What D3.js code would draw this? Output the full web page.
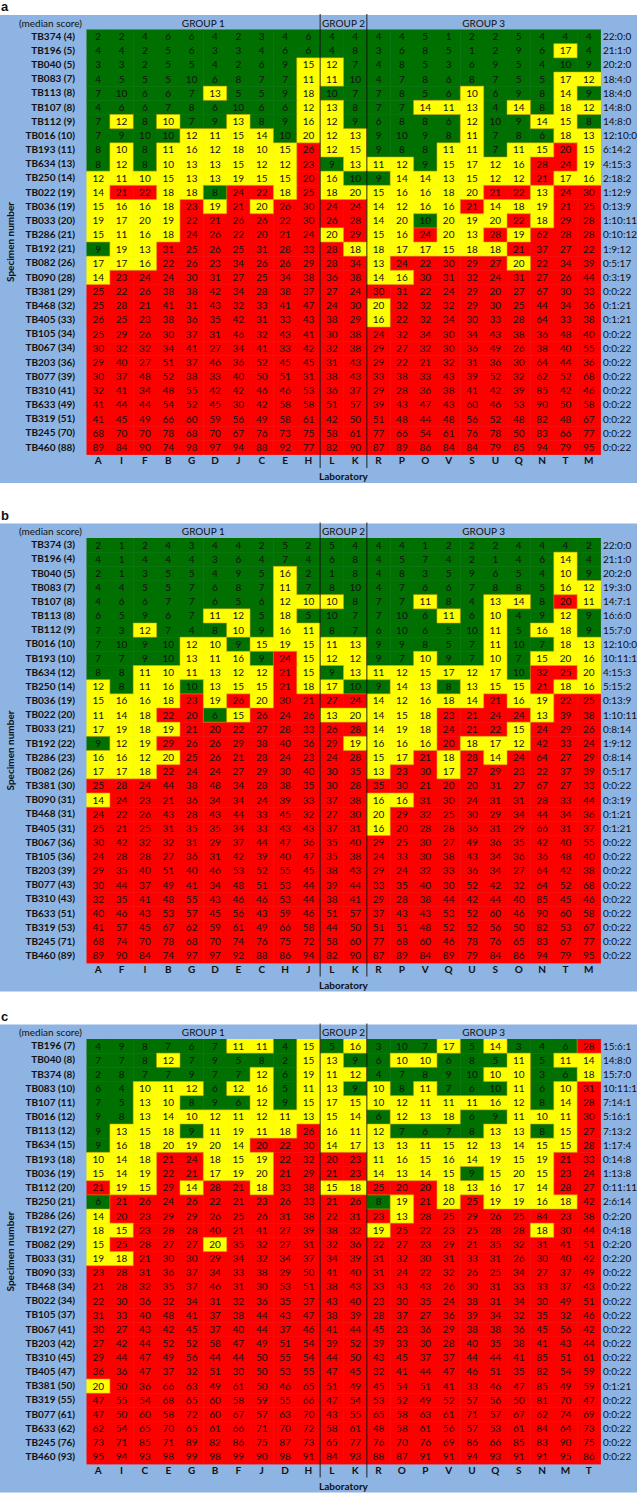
<!DOCTYPE html>
<html>
<head>
<meta charset="utf-8">
<script src="https://cdn.jsdelivr.net/npm/d3@7"></script>
<style>
  body { margin: 0; background: #fff; }
  svg { display: block; }
  text { font-family: Lato, "Open Sans", sans-serif; fill: #111; }
</style>
</head>
<body>
<svg id="chart"></svg>
<script>
// groups of laboratories (same in every panel)
const groupNames = ["GROUP 1", "GROUP 2", "GROUP 3"];
const groupSizes = [10, 2, 10];

// ---- panel a ----
const labsA = ["A","I","F","B","G","D","J","C","E","H","L","K","R","P","O","V","S","U","Q","N","T","M"];
const specA = ["TB374","TB196","TB040","TB083","TB113","TB107","TB112","TB016","TB193","TB634","TB250","TB022","TB036","TB033","TB286","TB192","TB082","TB090","TB381","TB468","TB405","TB105","TB067","TB203","TB077","TB310","TB633","TB319","TB245","TB460"];
const medA = [4,5,5,7,8,8,9,10,11,13,14,19,19,20,21,21,26,28,29,32,33,34,34,36,39,41,49,51,70,88];
const scoreA = [
  [2,2,4,6,6,4,2,3,4,6, 4,4, 4,4,5,1,2,2,5,4,4,4],
  [4,4,2,5,6,3,3,4,6,6, 4,8, 3,6,8,5,1,2,9,6,17,4],
  [3,3,2,5,5,4,2,6,9,15, 12,7, 4,8,5,3,6,9,5,4,10,9],
  [4,5,5,5,10,6,8,7,7,11, 11,10, 4,7,8,6,8,7,5,5,17,12],
  [7,10,6,6,7,13,5,5,9,18, 10,7, 7,8,5,6,10,6,9,8,14,9],
  [4,6,6,7,8,6,10,6,6,12, 13,8, 7,7,14,11,13,4,14,8,18,12],
  [7,12,8,10,7,9,13,8,9,16, 12,9, 6,8,8,6,12,10,9,14,15,8],
  [7,9,10,10,12,11,15,14,10,20, 12,13, 9,10,9,8,11,7,8,6,18,13],
  [8,10,8,11,16,12,18,10,15,26, 12,15, 9,8,8,11,11,7,11,15,20,15],
  [8,12,8,10,13,13,15,12,12,23, 9,13, 11,12,9,15,17,12,16,28,24,19],
  [12,11,10,15,13,13,19,15,15,20, 16,10, 9,14,14,13,15,12,12,21,17,16],
  [14,21,22,18,18,8,24,22,18,25, 18,20, 15,16,16,18,20,21,22,13,24,30],
  [15,16,16,18,23,19,21,20,26,30, 24,24, 14,12,16,16,21,14,18,19,21,25],
  [19,17,20,19,22,21,26,26,22,30, 26,28, 14,20,10,20,19,20,22,18,29,28],
  [15,11,16,18,24,26,22,20,21,24, 20,29, 15,16,24,20,13,28,19,62,28,28],
  [9,19,13,31,25,26,25,31,28,33, 28,18, 18,17,17,15,18,18,21,37,27,22],
  [17,17,16,22,26,23,34,26,26,29, 28,34, 13,24,22,30,29,27,20,22,34,39],
  [14,23,24,24,30,31,27,25,34,38, 36,38, 14,16,30,31,32,24,31,27,26,44],
  [25,22,26,38,38,42,34,28,38,37, 27,24, 30,31,22,24,29,20,27,67,30,33],
  [25,28,21,41,31,43,32,33,41,47, 24,30, 20,32,32,32,29,30,25,44,34,36],
  [26,25,23,38,36,35,42,31,33,43, 38,29, 16,22,32,34,30,33,28,64,33,38],
  [25,29,26,30,37,31,46,32,43,41, 30,38, 24,32,34,30,34,43,38,36,48,40],
  [30,32,32,34,41,27,34,41,33,42, 32,38, 29,27,32,30,36,49,26,38,40,55],
  [29,40,27,51,37,46,36,52,45,45, 31,43, 29,22,21,32,31,36,30,64,44,36],
  [30,37,48,52,38,33,40,50,51,31, 38,43, 33,38,33,43,39,52,32,62,52,68],
  [32,41,34,48,55,42,42,46,46,53, 36,37, 29,28,36,38,41,42,39,85,42,46],
  [41,44,44,54,52,45,30,42,58,58, 51,57, 39,43,47,43,60,46,53,90,50,58],
  [41,45,49,66,60,59,56,49,58,61, 42,50, 51,48,44,48,56,52,48,82,48,67],
  [68,70,70,78,68,70,67,76,73,75, 58,61, 77,66,54,61,76,78,50,83,66,77],
  [89,84,90,74,98,97,94,88,92,77, 82,90, 87,89,86,84,84,79,85,94,79,95]
];
// G = green, Y = yellow, R = red
const classA = [
  "GGGGGGGGGG GG GGGGGGGGGG",
  "GGGGGGGGGG GG GGGGGGGGYG",
  "GGGGGGGGGY YG GGGGGGGGGG",
  "GGGGGGGGGY YG GGGGGGGGYY",
  "GGGGGYGGGY GG GGGGYGGGYG",
  "GGGGGGGGGY YG GGYYYGYGYY",
  "GYGYGGYGGY YG GGGGYGGYYG",
  "GGGGYYYYGY YY GGGGYGGGYY",
  "GYGYYYYYYR YY GGGYYGYYRY",
  "GYGYYYYYYR GY YYGYYYYRRY",
  "YYYYYYYYYR YG GYYYYYYRYY",
  "YRRYYGRRYR YY YYYYYRRYRR",
  "YYYYRYRYRR RR YYYYRYYYRR",
  "YYYYRRRRRR RR YYGYYYRYRR",
  "YYYYRRRRRR YR YYRYYRYRRR",
  "GYYRRRRRRR RY YYYYYYRRRR",
  "YYYRRRRRRR RR YRRRRRYRRR",
  "YRRRRRRRRR RR YYRRRRRRRR",
  "RRRRRRRRRR RR RRRRRRRRRR",
  "RRRRRRRRRR RR YRRRRRRRRR",
  "RRRRRRRRRR RR YRRRRRRRRR",
  "RRRRRRRRRR RR RRRRRRRRRR",
  "RRRRRRRRRR RR RRRRRRRRRR",
  "RRRRRRRRRR RR RRRRRRRRRR",
  "RRRRRRRRRR RR RRRRRRRRRR",
  "RRRRRRRRRR RR RRRRRRRRRR",
  "RRRRRRRRRR RR RRRRRRRRRR",
  "RRRRRRRRRR RR RRRRRRRRRR",
  "RRRRRRRRRR RR RRRRRRRRRR",
  "RRRRRRRRRR RR RRRRRRRRRR"
];

// ---- panel b ----
const labsB = ["A","F","I","B","G","D","E","C","H","J","L","K","R","P","V","Q","U","S","O","N","T","M"];
const specB = ["TB374","TB196","TB040","TB083","TB107","TB113","TB112","TB016","TB193","TB634","TB250","TB036","TB022","TB033","TB192","TB286","TB082","TB381","TB090","TB468","TB405","TB067","TB105","TB203","TB077","TB310","TB633","TB319","TB245","TB460"];
const medB = [3,4,5,7,8,8,9,10,10,12,14,19,20,21,22,23,26,30,31,31,31,36,36,39,43,43,51,53,71,89];
const scoreB = [
  [2,1,2,4,3,4,4,2,5,2, 5,4, 4,4,1,2,2,2,4,4,4,2],
  [4,1,4,4,4,3,6,4,7,4, 6,8, 4,5,7,4,2,1,4,6,14,4],
  [2,1,3,5,5,4,9,5,16,2, 1,8, 4,8,3,5,9,6,5,4,10,9],
  [4,4,5,5,7,6,8,7,11,7, 8,10, 4,7,6,6,7,8,8,5,16,12],
  [4,6,6,7,7,6,5,6,12,10, 10,8, 7,7,11,8,4,13,14,8,20,11],
  [6,5,9,6,7,11,12,5,18,5, 10,7, 7,10,6,11,6,10,4,9,12,9],
  [7,3,12,7,4,8,10,9,16,11, 8,7, 6,10,6,5,10,11,5,16,18,9],
  [7,10,9,10,12,10,9,15,19,15, 11,13, 9,9,8,5,7,11,10,7,18,13],
  [7,7,9,10,13,11,16,9,24,15, 12,12, 9,7,10,9,7,10,7,15,20,16],
  [8,8,11,10,11,13,12,12,21,15, 9,13, 11,12,15,17,12,17,10,32,25,20],
  [12,8,11,16,10,13,15,15,21,18, 17,10, 9,14,13,8,13,15,15,21,18,16],
  [15,16,16,18,23,19,26,20,30,21, 27,24, 14,12,16,18,14,21,16,19,22,25],
  [11,14,18,22,20,6,15,26,24,26, 13,20, 14,15,18,23,21,24,24,13,39,38],
  [17,19,18,19,21,20,22,27,28,33, 26,28, 14,19,18,24,21,22,15,24,29,26],
  [9,12,19,29,26,26,29,38,40,36, 29,19, 16,16,16,20,18,17,12,42,33,24],
  [16,16,12,20,25,26,21,28,24,23, 24,28, 15,17,21,18,28,14,24,64,27,29],
  [17,17,18,22,24,24,27,29,30,40, 30,35, 13,23,30,17,27,29,23,22,37,39],
  [25,28,24,44,38,48,34,28,38,35, 30,28, 35,30,21,20,20,31,27,67,27,33],
  [14,24,23,21,36,34,34,24,39,33, 37,38, 16,16,31,30,24,31,31,28,33,44],
  [24,22,26,43,28,43,44,33,45,32, 27,30, 20,29,32,25,30,29,34,44,34,36],
  [25,21,25,31,35,35,34,33,43,43, 37,31, 16,20,28,28,36,31,29,66,31,37],
  [30,42,32,32,31,29,37,44,47,36, 35,40, 29,25,30,27,49,36,35,42,40,55],
  [24,28,28,27,36,31,42,39,40,47, 35,38, 24,33,30,38,43,34,36,36,48,40],
  [29,35,40,51,40,46,53,52,55,45, 38,43, 29,24,32,33,36,34,27,64,42,38],
  [30,44,37,49,41,34,48,51,53,44, 39,44, 33,35,40,30,52,42,32,64,52,68],
  [32,35,41,48,55,43,46,46,53,44, 38,41, 29,28,38,44,42,44,40,85,45,46],
  [40,46,43,53,57,45,56,43,59,46, 51,57, 37,43,43,53,52,60,46,90,60,58],
  [41,57,45,67,62,59,61,49,66,58, 44,50, 51,51,48,52,52,56,50,82,53,67],
  [68,74,70,78,68,70,74,76,75,72, 58,60, 77,68,60,46,78,76,65,83,67,77],
  [89,90,84,74,97,97,92,88,86,94, 82,90, 87,89,84,89,79,84,86,94,79,95]
];
const classB = [
  "GGGGGGGGGG GG GGGGGGGGGG",
  "GGGGGGGGGG GG GGGGGGGGYG",
  "GGGGGGGGYG GG GGGGGGGGYG",
  "GGGGGGGGYG GG GGGGGGGGYY",
  "GGGGGGGGYY YG GGYGGYYGRY",
  "GGGGGYYGYG GG GGGYGYGGYG",
  "GGYGGGYGYY GG GGGGGYGYYG",
  "GGGGYYGYYY YY GGGGGYGGYY",
  "GGGGYYYGRY YY GGYGGYGYYY",
  "GGYYYYYYRY GY YYYYYYGRRY",
  "YGYYGYYYRY YG GYYGYYYRYY",
  "YYYYRYRYRR RR YYYYYRYYRR",
  "YYYRRGYRRR YY YYYRRRRYRR",
  "YYYYRRRRRR RR YYYRRRYRRR",
  "GYYRRRRRRR RY YYYRYYYRRR",
  "YYYYRRRRRR RR YYRYRYRRRR",
  "YYYRRRRRRR RR YRRYRRRRRR",
  "RRRRRRRRRR RR RRRRRRRRRR",
  "YRRRRRRRRR RR YYRRRRRRRR",
  "RRRRRRRRRR RR YRRRRRRRRR",
  "RRRRRRRRRR RR YRRRRRRRRR",
  "RRRRRRRRRR RR RRRRRRRRRR",
  "RRRRRRRRRR RR RRRRRRRRRR",
  "RRRRRRRRRR RR RRRRRRRRRR",
  "RRRRRRRRRR RR RRRRRRRRRR",
  "RRRRRRRRRR RR RRRRRRRRRR",
  "RRRRRRRRRR RR RRRRRRRRRR",
  "RRRRRRRRRR RR RRRRRRRRRR",
  "RRRRRRRRRR RR RRRRRRRRRR",
  "RRRRRRRRRR RR RRRRRRRRRR"
];

// ---- panel c ----
const labsC = ["A","I","C","E","G","B","F","J","D","H","L","K","R","O","P","V","U","Q","S","N","M","T"];
const specC = ["TB196","TB040","TB374","TB083","TB107","TB016","TB113","TB634","TB193","TB036","TB112","TB250","TB286","TB192","TB082","TB033","TB090","TB468","TB022","TB105","TB067","TB203","TB310","TB405","TB381","TB319","TB077","TB633","TB245","TB460"];
const medC = [7,8,8,10,11,12,12,15,18,19,20,21,26,27,29,31,33,34,34,37,41,42,45,47,50,55,61,62,76,93];
const scoreC = [
  [4,9,8,7,6,7,11,11,4,15, 5,16, 3,10,7,17,5,14,3,4,6,28],
  [7,7,8,12,7,9,5,8,2,15, 13,9, 6,10,10,6,8,5,11,5,11,14],
  [2,8,7,7,9,7,7,12,6,19, 11,12, 4,7,8,9,10,10,10,3,6,18],
  [6,4,10,11,12,6,12,16,5,11, 13,9, 10,8,11,7,6,10,11,6,10,31],
  [7,5,13,10,8,9,6,12,9,15, 17,15, 10,12,11,11,11,16,12,8,14,28],
  [9,8,13,14,10,12,11,12,11,13, 15,14, 6,12,13,18,6,9,11,10,11,30],
  [9,13,15,18,9,11,19,11,18,26, 16,11, 12,7,6,7,8,13,13,8,15,27],
  [9,16,18,20,19,20,14,20,22,30, 14,17, 13,13,11,15,12,13,14,15,15,28],
  [10,14,18,21,24,18,15,19,22,32, 20,23, 11,16,15,16,14,19,15,19,21,33],
  [15,14,19,22,21,17,19,20,21,29, 21,23, 14,13,14,15,9,15,20,15,23,24],
  [21,19,15,29,14,28,21,18,33,38, 15,18, 25,20,20,18,13,16,17,14,28,27],
  [6,21,26,24,26,22,21,23,26,33, 21,26, 8,19,21,20,25,19,19,16,18,42],
  [14,20,23,29,29,26,25,26,31,38, 22,31, 23,13,28,25,29,26,25,84,23,38],
  [18,15,23,28,28,40,21,41,27,39, 38,32, 19,25,22,23,25,28,28,18,30,44],
  [15,25,28,27,27,20,35,32,27,31, 32,36, 22,27,23,29,21,35,32,31,41,51],
  [19,18,21,30,30,29,34,32,34,37, 34,39, 31,32,30,31,33,31,26,30,40,42],
  [23,28,31,36,37,34,33,38,29,50, 41,40, 31,24,22,32,26,25,34,27,37,49],
  [21,28,32,35,37,46,31,30,53,51, 38,43, 33,43,43,26,30,31,33,33,37,43],
  [22,30,36,32,34,31,32,36,35,37, 43,40, 23,30,35,24,38,31,34,30,49,51],
  [31,33,40,48,41,37,38,44,43,47, 38,39, 28,37,27,36,39,34,32,35,32,46],
  [30,27,43,42,45,37,40,44,37,46, 41,44, 45,23,36,29,38,38,36,45,56,42],
  [27,42,44,52,52,58,47,49,51,54, 39,52, 39,33,30,28,40,35,38,41,43,44],
  [29,44,47,49,56,44,44,50,55,54, 44,50, 43,45,37,37,44,44,41,85,51,61],
  [36,36,47,37,32,51,30,50,53,55, 47,45, 32,41,44,47,46,51,35,82,54,59],
  [20,50,36,66,63,49,61,50,46,65, 51,49, 45,54,51,41,33,46,47,85,49,59],
  [47,55,54,68,65,60,58,59,55,66, 47,54, 53,52,49,52,57,56,50,81,70,47],
  [47,50,60,58,72,60,67,57,63,70, 43,55, 65,58,63,61,71,57,67,62,74,69],
  [62,54,65,70,65,61,66,71,70,72, 58,61, 48,58,61,56,57,53,61,84,64,73],
  [73,71,85,71,89,82,86,75,87,73, 65,77, 76,70,76,69,86,66,85,83,90,75],
  [95,94,93,98,99,98,99,90,98,91, 84,93, 88,87,91,91,94,93,91,91,95,86]
];
const classC = [
  "GGGGGGYYGY GY GGGYGYGGGR",
  "GGGYGGGGGY YG GYYGGGYGYY",
  "GGGGGGGYGY YY GGGGGYYGGY",
  "GGYYYGYYGY YG YGYGGGYGYR",
  "GGYYGGGYGY YY YYYYYYYGYR",
  "GGYYYYYYYY YY GYYYGGYYYR",
  "GYYYGYYYYR YY YGGGGYYGYR",
  "GYYYYYYRRR YY YYYYYYYYYR",
  "YYYRRYYYRR RR YYYYYYYYRR",
  "YYYRRYYYRR RR YYYYGYYYRR",
  "RYYRYRRYRR YY RRRYYYYYRR",
  "GRRRRRRRRR RR GYRYRYYYYR",
  "YRRRRRRRRR RR RYRRRRRRRR",
  "YYRRRRRRRR RR YRRRRRRYRR",
  "YRRRRYRRRR RR RRRRRRRRRR",
  "YYRRRRRRRR RR RRRRRRRRRR",
  "RRRRRRRRRR RR RRRRRRRRRR",
  "RRRRRRRRRR RR RRRRRRRRRR",
  "RRRRRRRRRR RR RRRRRRRRRR",
  "RRRRRRRRRR RR RRRRRRRRRR",
  "RRRRRRRRRR RR RRRRRRRRRR",
  "RRRRRRRRRR RR RRRRRRRRRR",
  "RRRRRRRRRR RR RRRRRRRRRR",
  "RRRRRRRRRR RR RRRRRRRRRR",
  "YRRRRRRRRR RR RRRRRRRRRR",
  "RRRRRRRRRR RR RRRRRRRRRR",
  "RRRRRRRRRR RR RRRRRRRRRR",
  "RRRRRRRRRR RR RRRRRRRRRR",
  "RRRRRRRRRR RR RRRRRRRRRR",
  "RRRRRRRRRR RR RRRRRRRRRR"
];

const W = 637, H = 1494;
const fill = { G: "#007000", Y: "#ffff00", R: "#ff0000" };

const svg = d3.select("#chart").attr("width", W).attr("height", H);

const panels = [
  { tag: "a", labs: labsA, spec: specA, med: medA, score: scoreA, cls: classA, top: 0 },
  { tag: "b", labs: labsB, spec: specB, med: medB, score: scoreB, cls: classB, top: 508.5 },
  { tag: "c", labs: labsC, spec: specC, med: medC, score: scoreC, cls: classC, top: 1009.5 }
];

panels.forEach(drawPanel);

function drawPanel(p) {
  const g = svg.append("g").attr("transform", `translate(0,${p.top})`);
  const cls = p.cls.map(s => s.replace(/ /g, ""));

  g.append("rect")
    .attr("x", 0).attr("y", 15).attr("width", W).attr("height", 468)
    .attr("fill", "#8db4e2");

  g.append("text")
    .attr("x", 1).attr("y", 11)
    .style("font-family", "Arial, 'Liberation Sans', sans-serif")
    .style("font-weight", "bold").style("font-size", "13px")
    .text(p.tag);

  const x = d3.scaleBand().domain(p.labs).range([86.5, 600.5]);
  const y = d3.scaleBand().domain(p.spec).range([29.5, 454.5]);

  const cells = [];
  p.score.forEach((row, r) => row.forEach((v, c) => {
    cells.push({ lab: p.labs[c], sp: p.spec[r], r, c, v, k: cls[r][c] });
  }));

  g.append("g").selectAll("rect")
    .data(cells)
    .join("rect")
    .attr("x", d => x(d.lab))
    .attr("y", d => y(d.sp))
    .attr("width", x.bandwidth() + 0.4)
    .attr("height", y.bandwidth() + 0.4)
    .attr("fill", d => fill[d.k]);

  // thin outline where the colour changes
  const edges = [];
  cells.forEach(d => {
    const right = d.c < 21 ? cls[d.r][d.c + 1] : null;
    const below = d.r < cls.length - 1 ? cls[d.r + 1][d.c] : null;
    if (right && right !== d.k) edges.push([x(d.lab) + x.bandwidth(), y(d.sp), x(d.lab) + x.bandwidth(), y(d.sp) + y.bandwidth()]);
    if (below && below !== d.k) edges.push([x(d.lab), y(d.sp) + y.bandwidth(), x(d.lab) + x.bandwidth(), y(d.sp) + y.bandwidth()]);
  });
  g.append("g").selectAll("line")
    .data(edges)
    .join("line")
    .attr("x1", d => d[0]).attr("y1", d => d[1])
    .attr("x2", d => d[2]).attr("y2", d => d[3])
    .attr("stroke", "#d9a400").attr("stroke-width", 0.8).attr("stroke-opacity", 0.7);

  g.append("g").selectAll("text")
    .data(cells)
    .join("text")
    .attr("x", d => x(d.lab) + x.bandwidth() / 2)
    .attr("y", d => y(d.sp) + y.bandwidth() / 2)
    .attr("text-anchor", "middle")
    .attr("dy", "0.35em")
    .style("font-size", "10px")
    .text(d => d.v);

  // row labels
  const yAxis = g.append("g")
    .attr("transform", "translate(75,0)")
    .call(d3.axisLeft(y).tickSize(0).tickPadding(0).tickFormat((d, i) => `${d} (${p.med[i]})`));
  yAxis.select(".domain").remove();
  yAxis.selectAll("text")
    .style("font-family", "Lato, sans-serif")
    .style("font-weight", "bold").style("font-size", "10px").attr("fill", "#111");

  // green:yellow:red counts
  g.append("g").selectAll("text")
    .data(cls)
    .join("text")
    .attr("x", 603)
    .attr("y", (d, i) => y(p.spec[i]) + y.bandwidth() / 2)
    .attr("dy", "0.35em")
    .style("font-size", "10px")
    .text(s => ["G", "Y", "R"].map(k => s.split(k).length - 1).join(":"));

  // laboratory letters
  const xAxis = g.append("g")
    .attr("transform", "translate(0,457)")
    .call(d3.axisBottom(x).tickSize(0).tickPadding(0));
  xAxis.select(".domain").remove();
  xAxis.selectAll("text")
    .style("font-family", "Lato, sans-serif")
    .style("font-weight", "bold").style("font-size", "10px").attr("fill", "#111");

  // header row
  g.append("text")
    .attr("x", 82).attr("y", 23).attr("dy", "0.35em")
    .attr("text-anchor", "end")
    .style("font-size", "10px")
    .text("(median score)");

  let start = 0;
  groupNames.forEach((name, i) => {
    const first = p.labs[start], last = p.labs[start + groupSizes[i] - 1];
    const cx = (x(first) + x(last) + x.bandwidth()) / 2;
    g.append("text")
      .attr("x", cx).attr("y", 23).attr("dy", "0.35em")
      .attr("text-anchor", "middle")
      .style("font-size", "10px")
      .text(name);
    start += groupSizes[i];
    if (i < groupNames.length - 1) {
      const bx = x(p.labs[start]);
      g.append("line")
        .attr("x1", bx).attr("x2", bx).attr("y1", 14).attr("y2", 468)
        .attr("stroke", "#111").attr("stroke-width", 0.9);
    }
  });

  g.append("text")
    .attr("x", (x.range()[0] + x.range()[1]) / 2).attr("y", 476.5).attr("dy", "0.35em")
    .attr("text-anchor", "middle")
    .style("font-weight", "bold").style("font-size", "10px")
    .text("Laboratory");

  g.append("text")
    .attr("transform", `translate(10,${(y.range()[0] + y.range()[1]) / 2}) rotate(-90)`)
    .attr("text-anchor", "middle").attr("dy", "0.35em")
    .style("font-weight", "bold").style("font-size", "10px")
    .text("Specimen number");
}
</script>
</body>
</html>
